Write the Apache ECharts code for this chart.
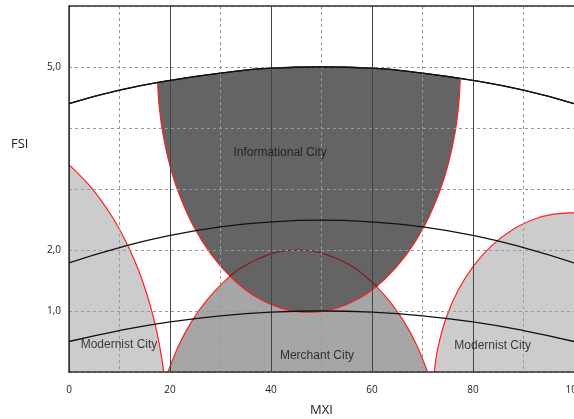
<!DOCTYPE html>
<html>
<head>
<meta charset="utf-8">
<script src="https://cdn.jsdelivr.net/npm/echarts@6/dist/echarts.min.js"></script>
<style>
html,body{margin:0;padding:0;background:#fff;overflow:hidden;}
#chart{width:574px;height:419px;}
</style>
</head>
<body>
<div id="chart"></div>
<script>
// ---- data ----
const xTickValues = [0, 20, 40, 60, 80, 100];
const yLabelValues = [1, 2, 5];
const yLabelTexts = ['1,0', '2,0', '5,0'];

// black reference curves (FSI at MXI 0..100)
const curveX = [0, 10, 20, 30, 40, 50, 60, 70, 80, 90, 100];
const fsiUpper = [4.40, 4.62, 4.78, 4.90, 4.98, 5.00, 4.98, 4.90, 4.78, 4.62, 4.40];
const fsiMiddle = [1.79, 2.04, 2.24, 2.38, 2.46, 2.49, 2.46, 2.38, 2.24, 2.04, 1.79];
const fsiLower = [0.50, 0.68, 0.82, 0.92, 0.98, 1.00, 0.98, 0.92, 0.82, 0.68, 0.50];

// Informational City lower edge
const infoX = [17.55, 17.79, 18.52, 19.78, 21.52, 24.52, 28.22, 32.5, 37.24, 42.29, 47.5, 52.71, 57.76, 62.5, 66.78, 70.48, 73.48, 75.22, 76.48, 77.21, 77.47];
const infoY = [4.75, 4.42, 3.94, 3.45, 2.98, 2.41, 1.92, 1.52, 1.22, 1.04, 0.98, 1.04, 1.22, 1.52, 1.92, 2.41, 2.98, 3.45, 3.94, 4.42, 4.80];

// Merchant City upper edge
const merchantX = [19.58, 21.74, 24.3, 27.22, 30.45, 33.93, 37.61, 41.42, 45.3, 49.18, 52.99, 56.67, 60.15, 63.38, 66.3, 68.86, 71.02];
const merchantY = [0, 0.44, 0.83, 1.17, 1.46, 1.70, 1.86, 1.97, 2.0, 1.97, 1.86, 1.70, 1.46, 1.17, 0.83, 0.44, 0];
// part of the Merchant edge seen through Informational City
const innerX = [31.8, 33.93, 37.61, 41.42, 45.3, 49.18, 52.99, 56.67, 60.15, 61.1];
const innerY = [1.565, 1.70, 1.86, 1.97, 2.0, 1.97, 1.86, 1.70, 1.46, 1.40];

// Modernist City edges
const modLX = [0, 3.64, 6.21, 8.60, 10.8, 12.77, 14.52, 16.01, 17.26, 18.23, 18.75];
const modLY = [3.40, 3.096, 2.83, 2.536, 2.214, 1.868, 1.5, 1.113, 0.71, 0.294, 0];
const modRX = [72.33, 73.02, 74.64, 77.0, 80.04, 83.65, 87.75, 92.19, 95.66, 99.2, 100];
const modRY = [0, 0.386, 0.878, 1.331, 1.731, 2.068, 2.329, 2.508, 2.584, 2.61, 2.609];

// region labels
const regionNames = ['Informational City', 'Modernist City', 'Merchant City', 'Modernist City'];
const regionLabelX = [41.8, 9.9, 49.1, 83.9];
const regionLabelY = [3.60, 0.44, 0.26, 0.43];

// ---- build ----
const zip = (xs, ys) => xs.map((x, i) => [x, ys[i]]);
const RED = '#ff2020';
const FONT = 'Liberation Sans, Arial, sans-serif';
const AXFONT = 'Open Sans, sans-serif';

const chart = echarts.init(document.getElementById('chart'), null, {renderer: 'canvas'});

function edge(name, xs, ys, fill, origin, z) {
  return {
    name, type: 'line', data: zip(xs, ys), symbol: 'none', smooth: 0.3,
    lineStyle: {color: RED, width: 1.2},
    areaStyle: {color: fill, opacity: 1, origin: origin},
    z: z, silent: true
  };
}
function curve(name, ys, z) {
  return {
    name, type: 'line', data: zip(curveX, ys), symbol: 'none', smooth: true,
    lineStyle: {color: '#111', width: 1.3}, z: z, silent: true
  };
}

const option = {
  animation: false,
  grid: {left: 69, right: 0, top: 6, bottom: 47, containLabel: false, outerBoundsMode: 'none'},
  xAxis: [{
    type: 'value', min: 0, max: 100, interval: 20, z: 4,
    name: 'MXI', nameLocation: 'middle', nameGap: 32,
    nameTextStyle: {fontSize: 13, color: '#222', fontFamily: AXFONT},
    axisLine: {show: true, lineStyle: {color: '#333', width: 1.5}},
    axisTick: {show: false},
    axisLabel: {margin: 13, fontSize: 10, color: '#222', fontFamily: AXFONT,
      formatter: v => xTickValues.includes(v) ? String(v) : ''},
    splitLine: {show: true, lineStyle: {color: '#444', width: 1, type: 'solid'}},
    minorTick: {show: false, splitNumber: 2},
    minorSplitLine: {show: true, lineStyle: {color: '#999', width: 1, type: [3, 3]}}
  }, {
    type: 'value', min: 0, max: 100, position: 'top', z: 4,
    axisLine: {show: true, onZero: false, lineStyle: {color: '#333', width: 1.5}},
    axisTick: {show: false}, axisLabel: {show: false}, splitLine: {show: false}
  }],
  yAxis: {
    type: 'value', min: 0, max: 6, interval: 1, z: 4,
    axisLine: {show: true, lineStyle: {color: '#333', width: 1.5}},
    axisTick: {show: false},
    axisLabel: {margin: 8, fontSize: 10, color: '#222', fontFamily: AXFONT,
      formatter: v => { const i = yLabelValues.indexOf(v); return i >= 0 ? yLabelTexts[i] : ''; }},
    splitLine: {show: true, lineStyle: {color: '#999', width: 1, type: [3, 3]}}
  },
  graphic: [{
    type: 'text', left: 11, top: 138, z: 10,
    style: {text: 'FSI', fontSize: 13, fill: '#222', fontFamily: AXFONT}
  }],
  series: [
    edge('Merchant City', merchantX, merchantY, '#a6a6a6', 'start', 1),
    edge('Modernist City L', modLX, modLY, '#cccccc', 'start', 1),
    edge('Modernist City R', modRX, modRY, '#cccccc', 'start', 1),
    edge('Informational City', infoX, infoY, '#646464', 'end', 2),
    Object.assign(curve('upper cover', fsiUpper, 3),
      {areaStyle: {color: '#ffffff', opacity: 1, origin: 'end'}}),
    {
      name: 'merchant inner', type: 'line', data: zip(innerX, innerY), symbol: 'none', smooth: 0.3,
      lineStyle: {color: '#7a1e1e', width: 1.2}, z: 3, silent: true
    },
    curve('upper', fsiUpper, 5),
    curve('middle', fsiMiddle, 5),
    curve('lower', fsiLower, 5),
    {
      name: 'labels', type: 'scatter', symbolSize: 0, z: 6, silent: true,
      data: regionNames.map((n, i) => ({name: n, value: [regionLabelX[i], regionLabelY[i]]})),
      label: {show: true, position: 'inside', formatter: p => p.name,
        fontSize: 12, color: '#111', fontFamily: FONT}
    }
  ]
};
chart.setOption(option);
</script>
</body>
</html>
